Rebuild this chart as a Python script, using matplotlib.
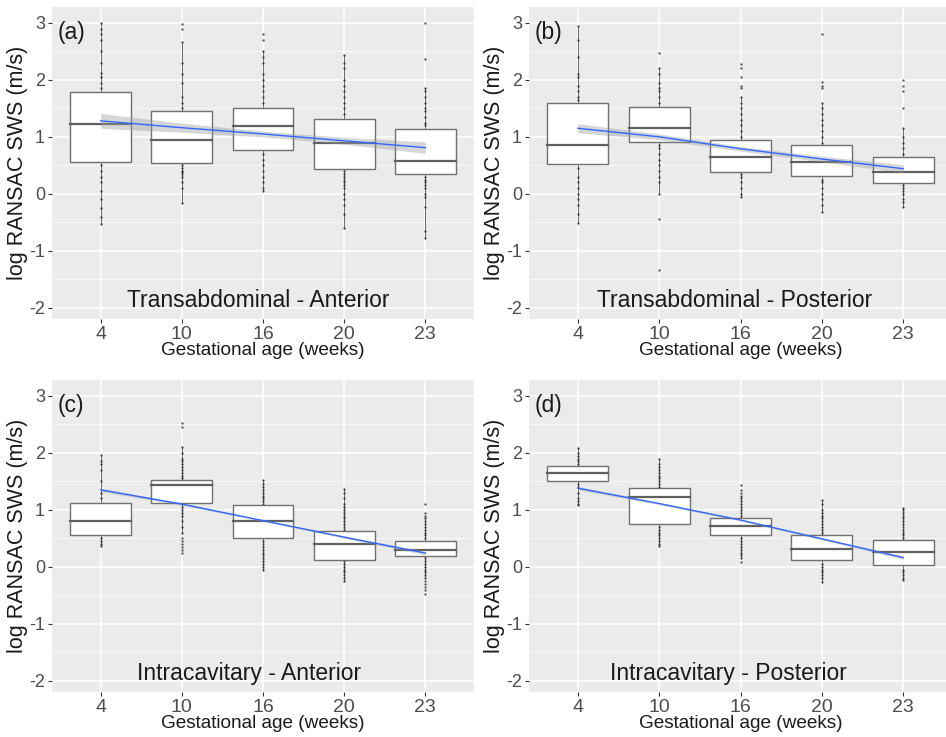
import numpy as np
import matplotlib.pyplot as plt

plt.rcParams['font.family'] = ['Liberation Sans', 'DejaVu Sans']
plt.rcParams['axes.unicode_minus'] = False

ages = ['4', '10', '16', '20', '23']

# (a) Transabdominal - Anterior
a_q1 = [0.55, 0.54, 0.77, 0.44, 0.34]
a_med = [1.23, 0.95, 1.19, 0.90, 0.57]
a_q3 = [1.79, 1.46, 1.51, 1.32, 1.13]
a_pts = [
    [3.0, 2.9, 2.8, 2.7, 2.5, 2.3, 2.12, 2.05, 1.95, 1.85, 0.5, 0.4, 0.3, 0.2, 0.05, -0.1, -0.25, -0.4, -0.53],
    [2.98, 2.9, 2.67, 2.3, 2.1, 1.95, 1.7, 1.6, 1.5, 0.5, 0.45, 0.4, 0.38, 0.35, 0.3, 0.2, 0.1, -0.17],
    [2.81, 2.7, 2.5, 2.4, 2.3, 2.1, 2.0, 1.9, 1.8, 1.7, 1.6, 0.7, 0.6, 0.5, 0.4, 0.3, 0.2, 0.1, 0.05],
    [2.43, 2.3, 2.2, 2.0, 1.9, 1.8, 1.7, 1.6, 1.5, 1.4, 0.4, 0.35, 0.3, 0.25, 0.2, 0.15, 0.1, 0.0, -0.1, -0.2, -0.35, -0.61],
    [3.0, 2.36, 1.85, 1.8, 1.7, 1.6, 1.5, 1.45, 1.35, 1.25, 1.2, 0.3, 0.25, 0.2, 0.15, 0.1, 0.0, -0.05, -0.24, -0.65, -0.77],
]
a_fit = [1.28, 1.16, 1.05, 0.93, 0.81]
a_se = [0.13, 0.08, 0.05, 0.06, 0.1]

# (b) Transabdominal - Posterior
b_q1 = [0.53, 0.91, 0.39, 0.31, 0.18]
b_med = [0.85, 1.16, 0.65, 0.56, 0.38]
b_q3 = [1.59, 1.53, 0.94, 0.85, 0.64]
b_pts = [
    [2.95, 2.7, 2.4, 2.1, 2.05, 1.9, 1.8, 1.7, 1.65, 0.45, 0.3, 0.2, 0.1, 0.0, -0.1, -0.2, -0.35, -0.51],
    [2.47, 2.2, 2.1, 1.95, 1.85, 1.8, 1.7, 1.6, 0.85, 0.8, 0.7, 0.6, 0.5, 0.4, 0.3, 0.2, 0.0, -0.44, -1.34],
    [2.28, 2.2, 2.05, 1.9, 1.85, 1.7, 1.6, 1.5, 1.4, 1.3, 1.2, 1.1, 1.0, 0.35, 0.3, 0.2, 0.1, 0.0, -0.06],
    [2.81, 1.97, 1.9, 1.85, 1.6, 1.5, 1.4, 1.3, 1.2, 1.1, 1.0, 0.9, 0.25, 0.2, 0.1, 0.0, -0.1, -0.2, -0.32],
    [2.0, 1.9, 1.8, 1.5, 1.15, 1.0, 0.9, 0.8, 0.7, 0.15, 0.1, 0.05, 0.0, -0.1, -0.15, -0.24],
]
b_fit = [1.15, 1.00, 0.79, 0.61, 0.44]
b_se = [0.08, 0.05, 0.04, 0.05, 0.07]

# (c) Intracavitary - Anterior
c_q1 = [0.56, 1.12, 0.51, 0.12, 0.19]
c_med = [0.80, 1.43, 0.80, 0.40, 0.30]
c_q3 = [1.12, 1.53, 1.08, 0.62, 0.46]
c_pts = [
    [1.96, 1.85, 1.8, 1.7, 1.5, 1.3, 1.2, 0.5, 0.45, 0.4, 0.37],
    [2.53, 2.45, 2.1, 2.0, 1.9, 1.85, 1.8, 1.75, 1.7, 1.65, 1.6, 1.55, 1.1, 1.05, 1.0, 0.95, 0.9, 0.8,
     0.7, 0.6, 0.5, 0.45, 0.4, 0.35, 0.3, 0.25],
    [1.53, 1.45, 1.4, 1.35, 1.3, 1.25, 1.2, 1.15, 1.1, 0.45, 0.4, 0.35, 0.3, 0.25, 0.2, 0.15, 0.1, 0.05, 0.0, -0.06],
    [1.37, 1.3, 1.2, 1.1, 1.05, 1.0, 0.95, 0.9, 0.85, 0.8, 0.75, 0.7, 0.65, 0.1, 0.05, 0.0, -0.05, -0.1, -0.15, -0.2, -0.25],
    [1.11, 0.95, 0.9, 0.85, 0.8, 0.75, 0.7, 0.65, 0.6, 0.55, 0.5, 0.15, 0.1, 0.05, 0.0, -0.05, -0.1, -0.15,
     -0.2, -0.25, -0.3, -0.35, -0.4, -0.47],
]
c_fit = [1.35, 1.10, 0.81, 0.52, 0.24]
c_se = [0.03, 0.02, 0.015, 0.02, 0.03]

# (d) Intracavitary - Posterior
d_q1 = [1.50, 0.75, 0.56, 0.12, 0.03]
d_med = [1.65, 1.23, 0.72, 0.31, 0.26]
d_q3 = [1.77, 1.39, 0.85, 0.55, 0.47]
d_pts = [
    [2.08, 2.0, 1.95, 1.9, 1.85, 1.8, 1.45, 1.4, 1.3, 1.2, 1.15, 1.1, 1.08],
    [1.89, 1.8, 1.75, 1.7, 1.65, 1.6, 1.55, 1.5, 1.45, 1.4, 0.7, 0.65, 0.6, 0.55, 0.5, 0.45, 0.4, 0.36],
    [1.43, 1.35, 1.3, 1.25, 1.2, 1.15, 1.1, 1.05, 1.0, 0.95, 0.9, 0.5, 0.45, 0.4, 0.35, 0.3, 0.25, 0.2, 0.15, 0.09],
    [1.17, 1.1, 1.0, 0.95, 0.9, 0.85, 0.8, 0.75, 0.7, 0.65, 0.6, 0.05, 0.0, -0.05, -0.1, -0.15, -0.2, -0.26],
    [1.04, 1.0, 0.95, 0.9, 0.85, 0.8, 0.75, 0.7, 0.65, 0.6, 0.55, 0.5, -0.05, -0.1, -0.15, -0.2, -0.24],
]
d_fit = [1.38, 1.11, 0.82, 0.49, 0.16]
d_se = [0.03, 0.02, 0.015, 0.02, 0.03]

panels = [
    ('(a)', 'Transabdominal - Anterior', 2.94, a_q1, a_med, a_q3, a_pts, a_fit, a_se),
    ('(b)', 'Transabdominal - Posterior', 2.93, b_q1, b_med, b_q3, b_pts, b_fit, b_se),
    ('(c)', 'Intracavitary - Anterior', 2.83, c_q1, c_med, c_q3, c_pts, c_fit, c_se),
    ('(d)', 'Intracavitary - Posterior', 2.85, d_q1, d_med, d_q3, d_pts, d_fit, d_se),
]

W, H = 946, 737
fig = plt.figure(figsize=(W / 100, H / 100), dpi=100)
# pixel boxes: left, top, right, bottom
boxes = [(52, 7, 474, 319), (529, 7, 952, 319), (52, 380, 474, 692), (529, 380, 952, 692)]

for (tag, title, tx, q1, med, q3, pts, fit, se), (l, t, r, b) in zip(panels, boxes):
    ax = fig.add_axes([l / W, (H - b) / H, (r - l) / W, (b - t) / H])
    ax.set_facecolor('#EBEBEB')
    for s in ax.spines.values():
        s.set_visible(False)
    ax.set_xlim(0.4, 5.6)
    ax.set_ylim(-2.2, 3.28)
    ax.set_xticks(range(1, 6))
    ax.set_xticklabels(ages)
    ax.set_yticks([-2, -1, 0, 1, 2, 3])
    ax.set_yticks([-1.5, -0.5, 0.5, 1.5, 2.5], minor=True)
    ax.grid(True, which='major', color='white', lw=1.1)
    ax.grid(True, which='minor', axis='y', color='white', lw=0.5)
    ax.set_axisbelow(True)
    ax.tick_params(which='major', length=3, color='#333333', labelsize=14, labelcolor='#4D4D4D', pad=2)
    ax.tick_params(axis='y', which='major', labelsize=13)
    ax.tick_params(which='minor', length=0)

    x = np.arange(1, 6)
    # whiskers (1.5 IQR rule) and points
    for i in range(5):
        p = np.array(pts[i])
        iqr = q3[i] - q1[i]
        hi = p[p <= q3[i] + 1.5 * iqr].max() if (p > q3[i]).any() else q3[i]
        lo = p[p >= q1[i] - 1.5 * iqr].min() if (p < q1[i]).any() else q1[i]
        ax.plot([x[i], x[i]], [q3[i], max(hi, q3[i])], color='#555555', lw=0.6, zorder=2)
        ax.plot([x[i], x[i]], [q1[i], min(lo, q1[i])], color='#555555', lw=0.6, zorder=2)
        ax.scatter(np.full(len(p), x[i]), p, s=3, color='#222222', alpha=0.7, lw=0, zorder=3)

    ax.bar(x, np.array(q3) - np.array(q1), bottom=q1, width=0.75, color='white',
           edgecolor='#707070', lw=1.0, zorder=4)
    for i in range(5):
        ax.plot([x[i] - 0.375, x[i] + 0.375], [med[i], med[i]], color='#606060', lw=1.6, zorder=5)

    fit = np.array(fit)
    se = np.array(se)
    ax.fill_between(x, fit - se, fit + se, color='#999999', alpha=0.4, lw=0, zorder=6)
    ax.plot(x, fit, color='#3366FF', lw=1.0, zorder=7)

    ax.text(0.47, 2.84, tag, fontsize=16.5, ha='left', va='center', color='#1a1a1a')
    ax.text(tx, -1.88, title, fontsize=16.5, ha='center', va='center', color='#1a1a1a')
    ax.set_xlabel('Gestational age (weeks)', fontsize=13.7, color='#1a1a1a')
    ax.set_ylabel('log RANSAC SWS (m/s)', fontsize=15.5, color='#1a1a1a')
    ax.xaxis.set_label_coords(0.5, -0.1)
    ax.xaxis.label.set_verticalalignment('center')
    ax.yaxis.set_label_coords(-0.082, 0.5)
    ax.yaxis.label.set_verticalalignment('center')

fig.savefig('out.png', dpi=100)
